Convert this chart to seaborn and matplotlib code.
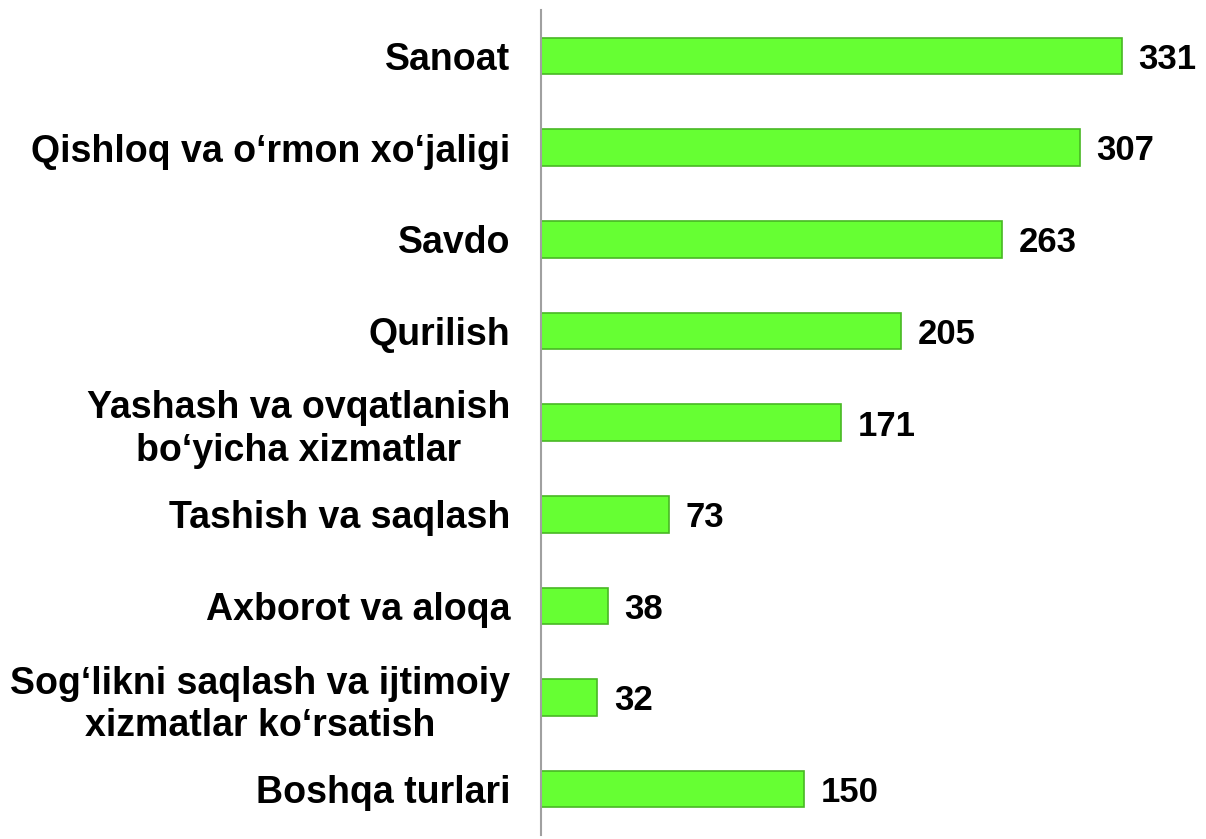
import pandas as pd
import seaborn as sns
import matplotlib.pyplot as plt

# data
categories = [
    "Sanoat",
    "Qishloq va o\u2018rmon xo\u2018jaligi",
    "Savdo",
    "Qurilish",
    "Yashash va ovqatlanish\nbo\u2018yicha xizmatlar",
    "Tashish va saqlash",
    "Axborot va aloqa",
    "Sog\u2018likni saqlash va ijtimoiy\nxizmatlar ko\u2018rsatish",
    "Boshqa turlari",
]
values = [331, 307, 263, 205, 171, 73, 38, 32, 150]

df = pd.DataFrame({"category": categories, "value": values})

sns.set_theme(style="white")
plt.rcParams["font.family"] = ["Liberation Sans", "DejaVu Sans"]
plt.rcParams["font.weight"] = "bold"
plt.rcParams["text.color"] = "black"
plt.rcParams["ytick.color"] = "black"

fig = plt.figure(figsize=(12.06, 8.39), dpi=100)
ax = fig.add_axes([541 / 1206, 4 / 839, 1 - 541 / 1206, 825 / 839])

sns.barplot(data=df, x="value", y="category", orient="h", ax=ax,
            color="#66FF33", saturation=1, width=0.4,
            edgecolor="#48B824", linewidth=1.2)

# value labels to the right of each bar
labels = ax.bar_label(ax.containers[0], fmt="%d", padding=12,
                      fontsize=25, fontweight="bold", color="black")
for t in labels:
    t.set_va("center_baseline")

ax.set_xlim(0, 379)
ax.set_ylim(8.5, -0.5)
ax.set_xlabel("")
ax.set_ylabel("")
ax.set_xticks([])
ax.tick_params(axis="y", length=0, pad=22)
for lbl in ax.get_yticklabels():
    lbl.set_fontsize(27)
    lbl.set_fontweight("bold")
    lbl.set_color("black")
    lbl.set_multialignment("center")
    lbl.set_linespacing(1.22)

for side in ["top", "right", "bottom"]:
    ax.spines[side].set_visible(False)
ax.spines["left"].set_color("#A0A0A0")
ax.spines["left"].set_linewidth(1.5)

fig.savefig("out.png", dpi=100)
